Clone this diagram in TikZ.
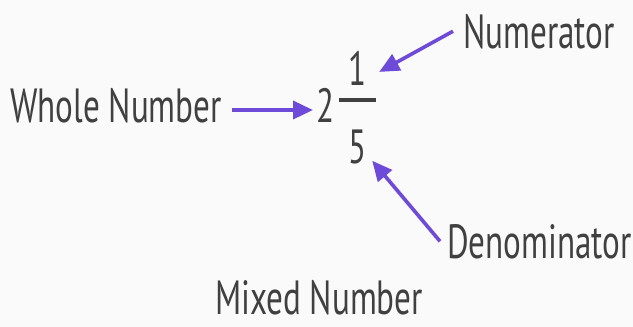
\documentclass[tikz,border=0pt]{standalone}
\usepackage{fontspec}
\setmainfont{PT Sans}[FakeStretch=0.69]
\usetikzlibrary{arrows.meta}
\definecolor{arrowpurple}{RGB}{110,74,216}
\definecolor{textgray}{RGB}{64,64,64}
\definecolor{paper}{RGB}{250,250,250}

\begin{document}
\begin{tikzpicture}[x=1pt,y=1pt,
                    label node/.style={inner sep=0pt,text=textgray,font=\fontsize{48}{48}\selectfont},
                    pointer/.style={-{Triangle[length=20pt,width=18pt]},line width=3.6pt,arrowpurple}]

		\fill[paper] (0,0) rectangle (633,-327);
		\useasboundingbox (0,0) rectangle (633,-327);

		\node[label node,anchor=base west] (whole) at (10,-122) {Whole Number};
		\node[label node,anchor=base west] (two) at (316,-122) {2};
		\node[label node,anchor=base] (one) at (358,-85) {1};
		\node[label node,anchor=base] (five) at (358,-163) {5};
		\node[label node,anchor=base west] (numer) at (463,-48) {Numerator};
		\node[label node,anchor=base west] (denom) at (447,-258) {Denominator};
		\node[label node,anchor=base] (mixed) at (319,-314) {Mixed Number};

		% fraction bar
		\draw[textgray,line width=4pt] (339,-100) -- (376,-100);

		\draw[pointer] ([xshift=10pt,yshift=12pt]whole.base east) -- ([xshift=-3pt,yshift=12pt]two.base west);
		\draw[pointer] ([xshift=-10pt]numer.west) -- ([xshift=12pt,yshift=-4pt]one.east);
		\draw[pointer] ([xshift=-7pt]denom.west) -- ([xshift=5pt,yshift=3pt]five.south east);
	\end{tikzpicture}
\end{document}
